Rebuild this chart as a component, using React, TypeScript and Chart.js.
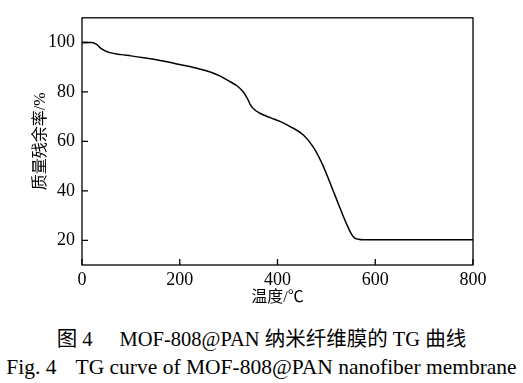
import React, { useEffect, useRef } from "react";
import { Chart, registerables } from "chart.js";

Chart.register(...registerables);

const temps = [0, 20, 30, 40, 57, 80, 100, 130, 166, 200, 235, 265, 283, 300, 317, 330, 338, 344, 352, 364, 385, 405, 426, 453, 474, 491, 505, 515, 525, 535, 545, 552, 558, 566, 575, 600, 700, 800];
const mass = [100, 100, 99.2, 97.4, 95.9, 95.1, 94.6, 93.7, 92.5, 91.1, 89.6, 87.9, 86.4, 84.5, 82.5, 80, 77.5, 75, 73, 71.4, 69.6, 68.1, 66.0, 62.6, 57.5, 51.1, 44.5, 39.5, 34.5, 29.5, 25, 22.3, 20.9, 20.4, 20.2, 20.2, 20.2, 20.2];
const xTicks = [0, 200, 400, 600, 800];
const yTicks = [20, 40, 60, 80, 100];

const xTitle = "温度/℃";
const yTitle = "质量残余率/%";
const caption1a = "图 4";
const caption1b = "MOF-808@PAN 纳米纤维膜的 TG 曲线";
const caption2a = "Fig. 4";
const caption2b = "TG curve of MOF-808@PAN nanofiber membrane";

const SERIF = "'Liberation Serif', 'Times New Roman', 'Noto Sans CJK SC', serif";

const boxPlugin = {
  id: "boxTicks",
  afterDraw(chart: any) {
    const { ctx, chartArea } = chart;
    const { left, right, top, bottom } = chartArea;
    ctx.save();
    ctx.strokeStyle = "#000";
    ctx.lineWidth = 1.3;
    ctx.strokeRect(left, top, right - left, bottom - top);
    const ys = chart.scales.y;
    const xs = chart.scales.x;
    ctx.beginPath();
    yTicks.forEach((v) => {
      const p = ys.getPixelForValue(v);
      ctx.moveTo(left, p);
      ctx.lineTo(left + 6, p);
    });
    xTicks.forEach((v) => {
      const p = xs.getPixelForValue(v);
      ctx.moveTo(p, bottom);
      ctx.lineTo(p, bottom - 6);
    });
    ctx.stroke();
    ctx.restore();
  },
};

export default function App() {
  const ref = useRef<HTMLCanvasElement>(null);
  useEffect(() => {
    if (!ref.current) return;
    const chart = new Chart(ref.current, {
      type: "line",
      data: {
        datasets: [
          {
            data: temps.map((t, i) => ({ x: t, y: mass[i] })),
            borderColor: "#000",
            borderWidth: 1.5,
            pointRadius: 0,
            cubicInterpolationMode: "monotone",
            fill: false,
          },
        ],
      },
      options: {
        animation: false,
        responsive: false,
        maintainAspectRatio: false,
        layout: { padding: { top: 5, right: 50, left: 0, bottom: 0 } },
        plugins: { legend: { display: false }, tooltip: { enabled: false } },
        scales: {
          x: {
            type: "linear",
            min: 0,
            max: 800,
            grid: { display: false, drawTicks: false },
            border: { display: false },
            afterBuildTicks: (s: any) => {
              s.ticks = xTicks.map((v) => ({ value: v }));
            },
            afterFit: (s: any) => {
              s.height = 45;
            },
            ticks: {
              padding: 4,
              color: "#000",
              font: { family: SERIF, size: 18 },
              maxRotation: 0,
            },
            title: {
              display: true,
              text: xTitle,
              color: "#000",
              font: { family: SERIF, size: 16 },
              padding: { top: 0, bottom: 3 },
            },
          },
          y: {
            min: 10,
            max: 110,
            grid: { display: false, drawTicks: false },
            border: { display: false },
            afterBuildTicks: (s: any) => {
              s.ticks = yTicks.map((v) => ({ value: v }));
            },
            afterFit: (s: any) => {
              s.width = 82;
            },
            ticks: {
              padding: 7,
              color: "#000",
              font: { family: SERIF, size: 18 },
            },
            title: {
              display: true,
              text: yTitle,
              color: "#000",
              font: { family: SERIF, size: 16 },
              padding: { top: 31, bottom: 0 },
            },
          },
        },
      },
      plugins: [boxPlugin],
    } as any);
    return () => chart.destroy();
  }, []);

  const capStyle: React.CSSProperties = {
    position: "absolute",
    left: 0,
    width: 523,
    textAlign: "center",
    fontFamily: SERIF,
    color: "#000",
    whiteSpace: "nowrap",
    lineHeight: "22px",
  };

  return (
    <div style={{ position: "absolute", left: 0, top: 0, width: 523, height: 383, background: "#fff" }}>
      <canvas ref={ref} width={523} height={310} style={{ position: "absolute", left: 0, top: 0, width: 523, height: 310 }} />
      <div style={{ ...capStyle, top: 328, fontSize: 20.5 }}>
        <span>{caption1a}</span>
        <span style={{ marginLeft: 27 }}>{caption1b}</span>
      </div>
      <div style={{ ...capStyle, top: 356, fontSize: 21.5 }}>
        <span>{caption2a}</span>
        <span style={{ marginLeft: 19 }}>{caption2b}</span>
      </div>
    </div>
  );
}
